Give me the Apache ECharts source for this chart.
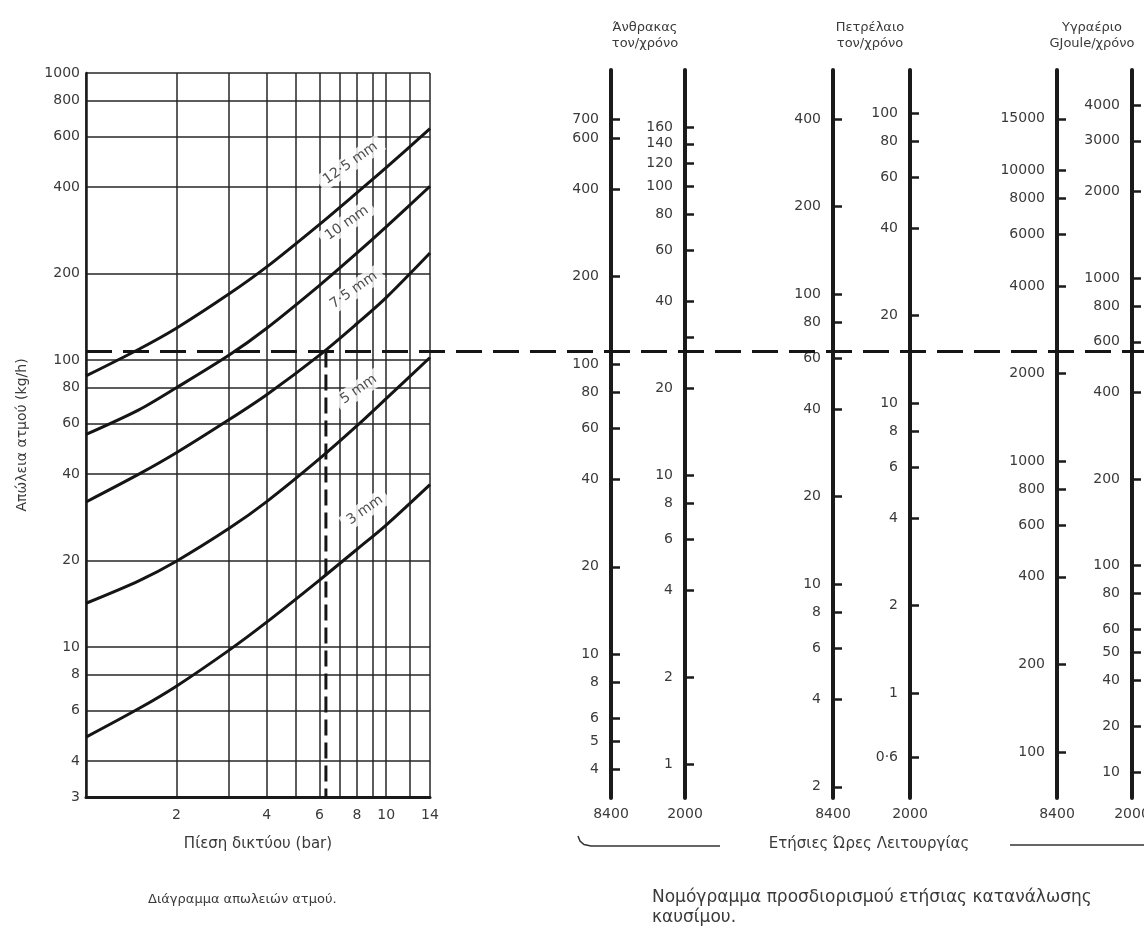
<!DOCTYPE html>
<html><head><meta charset="utf-8">
<script src="https://cdn.jsdelivr.net/npm/echarts@6/dist/echarts.min.js"></script>
<style>html,body{margin:0;padding:0;background:#fff}#c{width:1144px;height:933px}</style>
</head><body><div id="c"></div><script>
// ---- Left chart: steam loss vs network pressure ----
const pressures = [1, 1.5, 2, 3, 4, 6, 8, 10, 14];
const loss12_5 = [88, 109, 129, 170, 211, 297, 383, 468, 640];
const loss10   = [55, 67, 80, 104, 129, 182, 236, 291, 403];
const loss7_5  = [32, 40, 47.5, 62, 75.7, 104, 134, 165, 236];
const loss5    = [14.2, 17, 19.9, 25.9, 32.1, 45.3, 59, 73.3, 102];
const loss3    = [4.85, 6.1, 7.3, 9.75, 12.2, 17.1, 21.9, 26.6, 36.8];
const curveNames = ['12·5 mm', '10 mm', '7·5 mm', '5 mm', '3 mm'];
const curveLabelAt = [[7.6, 485], [7.4, 300], [7.8, 175], [8.1, 79], [8.5, 30]];
const xGridValues = [1, 2, 3, 4, 5, 6, 7, 8, 9, 10, 12, 14];
const xLabelValues = [2, 4, 6, 8, 10, 14];
const yGridValues = [3, 4, 6, 8, 10, 20, 40, 60, 80, 100, 200, 400, 600, 800, 1000];
const readingLoss = 107;
const readingPressure = 6.3;

// ---- Nomogram scales ----
const coal8400 = [700, 600, 400, 200, 100, 80, 60, 40, 20, 10, 8, 6, 5, 4];
const coal2000Ticks = [160, 140, 120, 100, 80, 60, 40, 30, 20, 10, 8, 6, 4, 2, 1];
const coal2000Labels = [160, 140, 120, 100, 80, 60, 40, 20, 10, 8, 6, 4, 2, 1];
const oil8400 = [400, 200, 100, 80, 60, 40, 20, 10, 8, 6, 4, 2];
const oil2000 = [100, 80, 60, 40, 20, 10, 8, 6, 4, 2, 1, 0.6];
const gas8400 = [15000, 10000, 8000, 6000, 4000, 2000, 1000, 800, 600, 400, 200, 100];
const gas2000Upper = [4000, 3000, 2000, 1000, 800, 600, 400, 200, 100, 80, 60, 50, 40];
const gas2000Lower = [20, 10];
const hours = ['8400', '2000'];

const FONT = '"DejaVu Sans", sans-serif';
const TXT = '#3a3a3a';
const fmt = v => String(Number(Number(v).toPrecision(6))).replace('.', '·');

const chart = echarts.init(document.getElementById('c'), null, {renderer: 'canvas'});

const grids = [
  {left: 86, top: 73, width: 344, height: 724, outerBoundsMode: 'none', containLabel: false},
  {left: 86, top: 73, width: 1058, height: 724, outerBoundsMode: 'none', containLabel: false}
];
const xAxes = [
  {type: 'log', gridIndex: 0, min: 1, max: 14, logBase: 10,
   name: 'Πίεση δικτύου (bar)', nameLocation: 'middle', nameGap: 40,
   nameTextStyle: {fontFamily: FONT, fontSize: 15, color: TXT},
   axisLine: {show: true, lineStyle: {color: '#1a1a1a', width: 3}},
   axisTick: {show: false, customValues: xGridValues},
   axisLabel: {customValues: xLabelValues, margin: 11, fontFamily: FONT, fontSize: 14, color: TXT, formatter: fmt},
   splitLine: {show: true, lineStyle: {color: '#262626', width: 1.5}}},
  {type: 'value', gridIndex: 1, min: 0, max: 1, show: false}
];
const yAxes = [
  {type: 'log', gridIndex: 0, min: 3, max: 1000, logBase: 10,
   name: 'Απώλεια ατμού (kg/h)', nameLocation: 'middle', nameGap: 57,
   nameTextStyle: {fontFamily: FONT, fontSize: 14, color: TXT},
   axisLine: {show: true, lineStyle: {color: '#1a1a1a', width: 2.5}},
   axisTick: {show: false, customValues: yGridValues},
   axisLabel: {customValues: yGridValues, margin: 6, fontFamily: FONT, fontSize: 14, color: TXT, formatter: fmt},
   splitLine: {show: true, lineStyle: {color: '#262626', width: 1.5}}},
  {type: 'log', gridIndex: 1, min: 3, max: 1000, show: false}
];

const nomoAxes = [
  {x: 611, top: 70, h: 728, min: 3.19, max: 1032, ticks: coal8400, labels: coal8400, name: hours[0]},
  {x: 685, top: 70, h: 728, min: 0.763, max: 252, ticks: coal2000Ticks, labels: coal2000Labels, name: hours[1]},
  {x: 833, top: 70, h: 728, min: 1.83, max: 591, ticks: oil8400, labels: oil8400, name: hours[0]},
  {x: 910, top: 70, h: 728, min: 0.4345, max: 140.6, ticks: oil2000, labels: oil2000, name: hours[1]},
  {x: 1057, top: 70, h: 728, min: 69.5, max: 22080, ticks: gas8400, labels: gas8400, name: hours[0]},
  {x: 1132, top: 70, h: 610, min: 40, max: 5290, ticks: gas2000Upper, labels: gas2000Upper, name: ''},
  {x: 1132, top: 680, h: 118, min: 6.76, max: 40, ticks: gas2000Lower, labels: gas2000Lower, name: hours[1]}
];
nomoAxes.forEach((a, i) => {
  const gi = grids.length;
  grids.push({left: a.x, top: a.top, width: 12, height: a.h, outerBoundsMode: 'none', containLabel: false});
  xAxes.push({type: 'value', gridIndex: gi, min: 0, max: 1, show: false});
  yAxes.push({type: 'log', gridIndex: gi, min: a.min, max: a.max, position: 'left',
    name: a.name, nameLocation: 'start', nameGap: 9,
    nameTextStyle: {fontFamily: FONT, fontSize: 14, color: TXT, align: 'center', verticalAlign: 'top'},
    axisLine: {show: true, lineStyle: {color: '#1a1a1a', width: 4}},
    axisTick: {show: true, inside: true, length: 9, customValues: a.ticks, lineStyle: {color: '#1a1a1a', width: 2.5}},
    axisLabel: {customValues: a.labels, margin: 12, fontFamily: FONT, fontSize: 14, color: TXT, formatter: fmt},
    splitLine: {show: false}});
});

const curves = [loss12_5, loss10, loss7_5, loss5, loss3];
const series = curves.map((vals, k) => ({
  type: 'line', xAxisIndex: 0, yAxisIndex: 0, smooth: 0.3, symbol: 'none', z: 5,
  lineStyle: {color: '#151515', width: 3},
  data: pressures.map((p, i) => [p, vals[i]])
}));
series.push({
  type: 'scatter', xAxisIndex: 0, yAxisIndex: 0, symbolSize: 0, z: 3,
  data: curveLabelAt,
  label: {show: true, position: 'inside', rotate: 35, formatter: p => curveNames[p.dataIndex],
    fontFamily: FONT, fontSize: 14, color: '#222', backgroundColor: '#fff', padding: [2, 6]}
});
series.push({
  type: 'line', xAxisIndex: 0, yAxisIndex: 0, symbol: 'none', z: 6,
  lineStyle: {color: '#151515', width: 3, type: [16, 7]},
  data: [[readingPressure, readingLoss], [readingPressure, yGridValues[0]]]
});
series.push({
  type: 'line', xAxisIndex: 1, yAxisIndex: 1, symbol: 'none', z: 7,
  lineStyle: {color: '#151515', width: 3, type: [26, 11]},
  data: [[0, readingLoss], [1, readingLoss]]
});

const T = (text, x, y, size, align) => ({type: 'text', x: x, y: y, z: 10, style: {
  text: text, fill: TXT, font: size + 'px ' + FONT, textAlign: align || 'center',
  textVerticalAlign: 'middle', lineHeight: Math.round(size * 1.2)}});

chart.setOption({
  backgroundColor: '#ffffff',
  animation: false,
  grid: grids, xAxis: xAxes, yAxis: yAxes, series: series,
  graphic: [
    T('Άνθρακας\nτον/χρόνο', 645, 36, 13),
    T('Πετρέλαιο\nτον/χρόνο', 870, 36, 13),
    T('Υγραέριο\nGJoule/χρόνο', 1092, 36, 13),
    T('Ετήσιες Ώρες Λειτουργίας', 869, 844, 15),
    {type: 'polyline', z: 10, shape: {points: [[578, 836], [580, 841], [584, 844.5], [591, 846], [720, 846]]},
     style: {fill: null, stroke: '#333', lineWidth: 1.5}},
    {type: 'line', z: 10, shape: {x1: 1010, y1: 845, x2: 1144, y2: 845},
     style: {stroke: '#333', lineWidth: 1.5}},
    T('Διάγραμμα απωλειών ατμού.', 148, 900, 13, 'left'),
    T('Νομόγραμμα προσδιορισμού ετήσιας κατανάλωσης\nκαυσίμου.', 652, 908, 17, 'left')
  ]
});
</script></body></html>
